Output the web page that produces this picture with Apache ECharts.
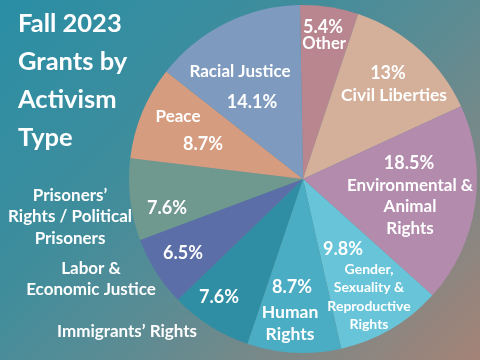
<!DOCTYPE html>
<html>
<head>
<meta charset="utf-8">
<script src="https://cdn.jsdelivr.net/npm/echarts@6/dist/echarts.min.js"></script>
<style>
html,body{margin:0;padding:0;}
#c{width:480px;height:360px;background:linear-gradient(135deg,#2a8ea5 0%,#3f8d9c 35%,#5a8c94 55%,#a48377 100%);}
</style>
</head>
<body>
<div id="c"></div>
<script>
// Data
var categories = ["Other","Civil Liberties","Environmental &\nAnimal\nRights","Gender,\nSexuality &\nReproductive\nRights","Human\nRights","Immigrants’ Rights","Labor &\nEconomic Justice","Prisoners’\nRights / Political\nPrisoners","Peace","Racial Justice"];
var values = [5.4, 13, 18.5, 9.8, 8.7, 7.6, 6.5, 7.6, 8.7, 14.1];
var percentLabels = ["5.4%","13%","18.5%","9.8%","8.7%","7.6%","6.5%","7.6%","8.7%","14.1%"];
var titleText = "Fall 2023\nGrants by\nActivism\nType";

// Styles (not data)
var colors = ["#b9858f","#d4af99","#b38bad","#68c4d8","#4badc3","#2f8ea3","#5b6ea8","#6f988f","#d69c80","#7f9abf"];
var pctPos = [[323,27],[388,73],[409,163],[343,249],[292,287],[219,297],[183,253],[167,208],[203,144],[252,102]];
var namePos = [[324,44],[394,95],[410,207],[369,297],[290,323],[127,332],[91,279],[70,217],[178,117],[240,72]];
var nameSize = [16.5,17.5,17,14,17.5,17,17,17,17,17];
var nameLH = [18,18,21.5,18.3,22,18,21,21.5,18,18];

var FONT = "Lato";
var chart = echarts.init(document.getElementById('c'), null, {renderer:'canvas'});

var baseData = values.map(function(v,i){ return {value:v, name:categories[i], itemStyle:{color:colors[i]}}; });
var overlayData = values.map(function(v,i){
  return {value:v, name:categories[i], itemStyle:{color:'rgba(0,0,0,0)'},
    label:{fontSize:nameSize[i], lineHeight:nameLH[i]}};
});

chart.setOption({
  backgroundColor:'transparent',
  title:{text:titleText,left:13,top:0,textStyle:{color:'#ffffff',fontFamily:FONT,fontWeight:'bold',fontSize:25.5,lineHeight:38}},
  series:[
    {type:'pie',center:[303,179],radius:[0,174],startAngle:91,clockwise:true,silent:true,animation:false,
     data:baseData,
     label:{show:true,position:'inside',color:'#fff',fontFamily:FONT,fontWeight:'bold',fontSize:18,
       formatter:function(p){return percentLabels[p.dataIndex];}},
     labelLine:{show:false},
     labelLayout:function(p){var q=pctPos[p.dataIndex];return {x:q[0],y:q[1],align:'center',verticalAlign:'middle'};}
    },
    {type:'pie',center:[303,179],radius:[0,174],startAngle:91,clockwise:true,silent:true,animation:false,
     data:overlayData,
     label:{show:true,position:'inside',color:'#fff',fontFamily:FONT,fontWeight:'bold',fontSize:17,align:'center',
       formatter:function(p){return categories[p.dataIndex];}},
     labelLine:{show:false},
     labelLayout:function(p){var q=namePos[p.dataIndex];return {x:q[0],y:q[1],align:'center',verticalAlign:'middle'};}
    }
  ]
});
</script>
</body>
</html>
